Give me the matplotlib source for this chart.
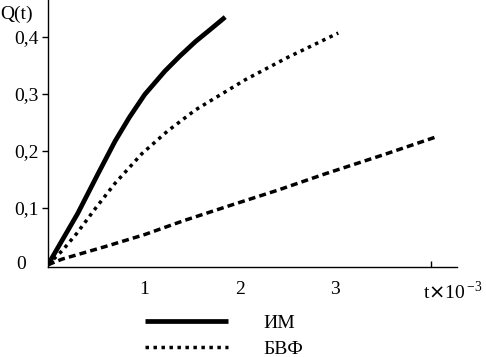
import matplotlib.pyplot as plt
import numpy as np

plt.rcParams['font.family'] = ['Liberation Serif', 'DejaVu Serif']
plt.rcParams['font.size'] = 14

# кривые Q(t), t в единицах 10^-3
t_im = [0, 0.31, 0.52, 0.70, 0.85, 1.01, 1.22, 1.38, 1.54, 1.70, 1.85]
q_im = [0, 0.09, 0.159, 0.217, 0.259, 0.299, 0.340, 0.367, 0.392, 0.414, 0.435]

t_bvf = [0, 0.15, 0.3, 0.5, 0.7, 0.98, 1.25, 1.54, 2.06, 2.5, 3.03]
q_bvf = [0, 0.025, 0.055, 0.1, 0.143, 0.195, 0.235, 0.272, 0.325, 0.364, 0.407]

t_3 = [0, 0.15, 0.6, 1.01, 1.41, 1.9, 2.4, 2.9, 3.5, 4.06]
q_3 = [0, 0.01, 0.032, 0.053, 0.077, 0.104, 0.131, 0.160, 0.193, 0.225]

yticks = [0.1, 0.2, 0.3, 0.4]
ylabels = ['0,1', '0,2', '0,3', '0,4']
xticks = [1, 2, 3]
xlabels = ['1', '2', '3']

fig = plt.figure(figsize=(4.86, 3.57), dpi=100)
ax = fig.add_axes([48 / 486, 1 - 267 / 357, (457 - 48) / 486, 267 / 357])

l1, = ax.plot(t_im, q_im, color='black', lw=3.4, solid_capstyle='butt',
              solid_joinstyle='round')
l2, = ax.plot(t_bvf, q_bvf, color='black', lw=2.5, dashes=(1, 1.3))
l3, = ax.plot(t_3, q_3, color='black', lw=2.5, dashes=(2, 1.2))

ax.set_xlim(0, 4.27)
ax.set_ylim(-0.004, 0.465)

ax.spines['top'].set_visible(False)
ax.spines['right'].set_visible(False)
for s in ['left', 'bottom']:
    ax.spines[s].set_linewidth(1.0)

ax.set_yticks(yticks)
ax.set_yticklabels(ylabels)
ax.tick_params(axis='y', direction='out', length=4, width=1, pad=3)
ax.text(-0.28, 0.0, '0', ha='center', va='center')

ax.set_xticks(xticks)
ax.set_xticklabels(xlabels)
ax.tick_params(axis='x', length=0, pad=10)
ax.set_xticks([4], minor=True)
ax.tick_params(axis='x', which='minor', direction='in', length=4, width=1)
ax.text(3.92, -0.048, r't$\times$10$^{\,\mathregular{-3}}$', ha='left', va='center')

fig.text(0.0, 1 - 14 / 357, 'Q(t)', ha='left', va='center')

fig.legend([l1, l2], ['ИМ', 'БВФ'], loc='upper left',
           bbox_to_anchor=(127 / 486, 1 - 297 / 357), frameon=False,
           handlelength=4.3, handletextpad=1.8, labelspacing=0.42)

fig.savefig('out.png', dpi=100)
